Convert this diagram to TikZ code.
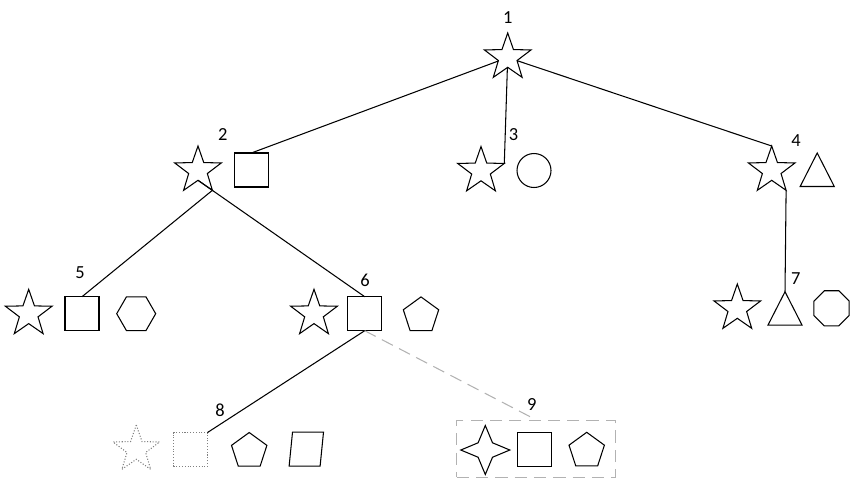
\documentclass[tikz,border=0pt]{standalone}
\usepackage{fontspec}
\setmainfont{Carlito}
\usetikzlibrary{shapes.geometric, calc}

\begin{document}
\begin{tikzpicture}[x=0.02cm, y=-0.02cm, font=\fontsize{10.5}{12}\selectfont,
        every node/.style={inner sep=0pt, outer sep=0pt},
        shp/.style={draw, line width=0.6pt, fill=white},
        fivestar/.style={shp, star, star points=5, star point ratio=2.5, minimum size=0.98cm},
        fourstar/.style={shp, star, star points=4, star point ratio=2.4, minimum size=0.98cm},
        sqr/.style={shp, rectangle, minimum size=0.68cm},
        circ/.style={shp, circle, minimum size=0.68cm},
        hexa/.style={shp, regular polygon, regular polygon sides=6, minimum size=0.78cm},
        penta/.style={shp, regular polygon, regular polygon sides=5, minimum size=0.744cm},
        octa/.style={shp, regular polygon, regular polygon sides=8, minimum size=0.76cm},
        tri/.style={shp, isosceles triangle, isosceles triangle apex angle=54, shape border rotate=90, minimum width=0.67cm, minimum height=0.67cm},
        para/.style={shp, rectangle, minimum width=0.62cm, minimum height=0.68cm, xslant=0.1, transform shape},
        ghost/.style={draw=gray, densely dotted, line width=0.6pt},
        link/.style={line width=0.6pt},
        hint/.style={draw=gray!60, line width=0.6pt, dash pattern=on 7pt off 4pt}]
    \useasboundingbox (0,0) rectangle (854,485);

    % --- root ---
    \node[fivestar] (s1) at (507.7,57.5) {};

    % --- second row ---
    \node[fivestar] (s2) at (198,170.5) {};
    \node[sqr] (q2) at (251.3,170) {};
    \node[fivestar] (s3) at (481,171) {};
    \node[circ] (c3) at (534,170.5) {};
    \node[fivestar] (s4) at (771.7,170.5) {};
    \node[tri, anchor=apex] (t4) at (817.2,153) {};

    % --- third row ---
    \node[fivestar] (s5) at (28.7,313.8) {};
    \node[sqr] (q5) at (82,313.7) {};
    \node[hexa] (h5) at (136.2,313.7) {};
    \node[fivestar] (s6) at (314,313.8) {};
    \node[sqr] (q6) at (364.7,313.7) {};
    \node[penta] (p6) at (421,315.5) {};
    \node[fivestar] (s7) at (737.3,308.5) {};
    \node[tri, anchor=apex] (t7) at (785,291.7) {};
    \node[octa] (o7) at (831.5,308.3) {};

    % --- fourth row ---
    \node[fivestar, ghost] (s8) at (136.3,449.5) {};
    \node[sqr, ghost] (q8) at (190.5,449.5) {};
    \node[penta] (p8) at (249.2,451.1) {};
    \node[para] (g8) at (306.3,449.2) {};
    \node[hint, rectangle, minimum width=3.174cm, minimum height=1.134cm] (box9) at (536,449) {};
    \node[fourstar] (s9) at (485.3,450) {};
    \node[sqr] (q9) at (534.3,449.2) {};
    \node[penta] (p9) at (586.7,450.9) {};

    % --- numbers ---
    \foreach \n/\pos in {1/{(507.7,17.5)}, 2/{(222.7,135)}, 3/{(513.5,135)}, 4/{(796,141)},
                         5/{(80,273)}, 6/{(365,280)}, 7/{(795.7,279)}, 8/{(220,410)}, 9/{(531.7,404)}} {
        \node (l\n) at \pos {\n};
    }

    % --- tree links ---
    \draw[link] (s1) -- (q2.north);
    \draw[link] (s1) -- (s3.outer point 5);
    \draw[link] (s1) -- (s4.outer point 1);
    \draw[link] (s2.outer point 4) -- (q5.north);
    \draw[link] (s2.inner point 3) -- (q6.north);
    \draw[link] (s4.outer point 4) -- (t7.apex);
    \draw[link] (q6.south) -- (q8.north east);
    \draw[hint] (q6.south) -- ($(box9.north)+(-6,-4)$);
\end{tikzpicture}
\end{document}
